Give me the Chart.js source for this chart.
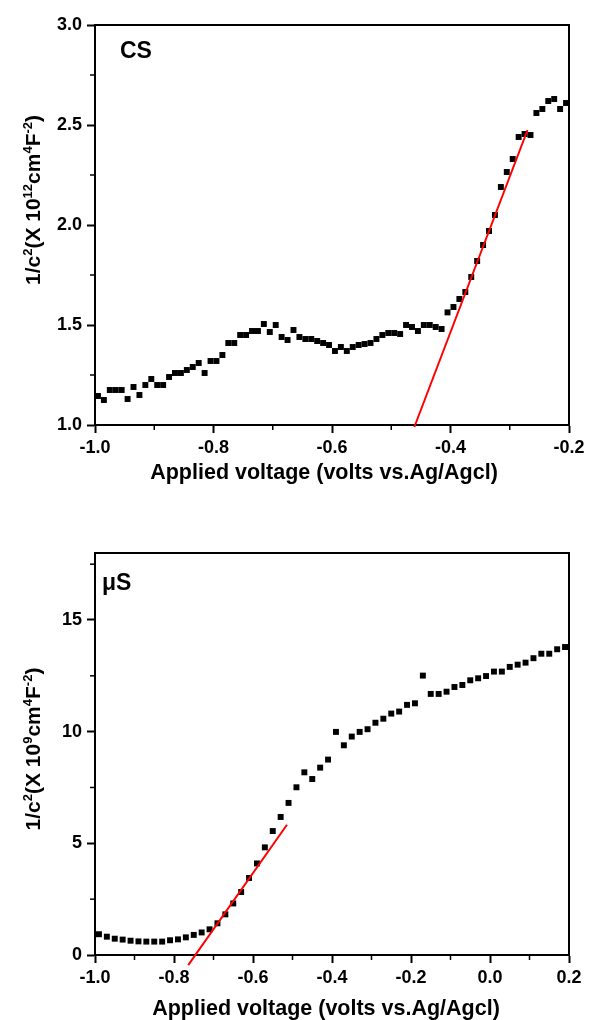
<!DOCTYPE html>
<html><head><meta charset="utf-8">
<script src="https://cdn.jsdelivr.net/npm/chart.js@4.4.0/dist/chart.umd.min.js"></script>
<style>
html,body{margin:0;padding:0;background:#fff;}
#wrap{position:relative;width:589px;height:1020px;}
.box{position:absolute;left:0;width:589px;height:510px;}
</style></head><body>
<div id="wrap">
<div class="box" style="top:0"><canvas id="c1"></canvas></div>
<div class="box" style="top:510px"><canvas id="c2"></canvas></div>
</div>
<script>
// ---- CS panel data ----
const csVoltage = [
-0.995,-0.985,-0.975,-0.965,-0.955,-0.945,-0.935,-0.925,-0.915,-0.905,
-0.895,-0.885,-0.875,-0.865,-0.855,-0.845,-0.835,-0.825,-0.815,-0.805,
-0.795,-0.785,-0.775,-0.765,-0.755,-0.745,-0.735,-0.725,-0.715,-0.705,
-0.695,-0.685,-0.675,-0.665,-0.655,-0.645,-0.635,-0.625,-0.615,-0.605,
-0.595,-0.585,-0.575,-0.565,-0.555,-0.545,-0.535,-0.525,-0.515,-0.505,
-0.495,-0.485,-0.475,-0.465,-0.455,-0.445,-0.435,-0.425,-0.415,-0.405,
-0.395,-0.385,-0.375,-0.365,-0.355,-0.345,-0.335,-0.325,-0.315,-0.305,
-0.295,-0.285,-0.275,-0.265,-0.255,-0.245,-0.235,-0.225,-0.215,-0.205];
const csInvC2 = [
1.145,1.125,1.175,1.175,1.175,1.13,1.19,1.15,1.20,1.23,
1.20,1.20,1.24,1.26,1.26,1.275,1.29,1.31,1.26,1.32,
1.32,1.35,1.41,1.41,1.45,1.45,1.47,1.47,1.505,1.465,
1.50,1.44,1.425,1.475,1.44,1.43,1.43,1.42,1.41,1.40,
1.37,1.39,1.37,1.39,1.40,1.405,1.41,1.43,1.45,1.46,
1.46,1.455,1.50,1.49,1.47,1.50,1.50,1.49,1.48,1.563,
1.59,1.63,1.665,1.74,1.82,1.90,1.97,2.05,2.19,2.265,
2.33,2.44,2.455,2.45,2.56,2.58,2.62,2.63,2.58,2.61];
const csFitVoltage = [-0.461, -0.270];
const csFitInvC2 = [0.99, 2.475];
const csXTicks = [-1.0,-0.8,-0.6,-0.4,-0.2];
const csXMinor = [-0.9,-0.7,-0.5,-0.3];
const csYTicks = [1.0,1.5,2.0,2.5,3.0];
const csYMinor = [1.25,1.75,2.25,2.75];

// ---- μS panel data ----
const usVoltage = [
-0.99,-0.97,-0.95,-0.93,-0.91,-0.89,-0.87,-0.85,-0.83,-0.81,
-0.79,-0.77,-0.75,-0.73,-0.71,-0.69,-0.67,-0.65,-0.63,-0.61,
-0.59,-0.57,-0.55,-0.53,-0.51,-0.49,-0.47,-0.45,-0.43,-0.41,
-0.39,-0.37,-0.35,-0.33,-0.31,-0.29,-0.27,-0.25,-0.23,-0.21,
-0.19,-0.17,-0.15,-0.13,-0.11,-0.09,-0.07,-0.05,-0.03,-0.01,
0.01,0.03,0.05,0.07,0.09,0.11,0.13,0.15,0.17,0.19];
const usInvC2 = [
0.93,0.82,0.73,0.69,0.64,0.61,0.60,0.60,0.60,0.66,
0.70,0.79,0.90,1.01,1.15,1.42,1.82,2.31,2.82,3.45,
4.10,4.82,5.55,6.18,6.81,7.51,8.18,7.88,8.39,8.75,
9.99,9.39,9.78,9.99,10.11,10.40,10.58,10.81,10.90,11.20,
11.27,12.51,11.69,11.69,11.79,12.00,12.09,12.30,12.39,12.49,
12.69,12.69,12.90,13.00,13.09,13.29,13.49,13.49,13.69,13.79];
const usFitVoltage = [-0.764, -0.514];
const usFitInvC2 = [-0.45, 5.83];
const usXTicks = [-1.0,-0.8,-0.6,-0.4,-0.2,0.0,0.2];
const usXMinor = [-0.9,-0.7,-0.5,-0.3,-0.1,0.1];
const usYTicks = [0,5,10,15];
const usYMinor = [2.5,7.5,12.5,17.5];

const FONT = "'Liberation Sans', Arial, sans-serif";
const xTitleText = 'Applied voltage (volts vs.Ag/Agcl)';

function drawRich(ctx, segs, bx, cy) {
  const mainF = 'bold 21px ' + FONT, supF = 'bold 13px ' + FONT;
  let total = 0;
  segs.forEach(s => { ctx.font = s[1] ? supF : mainF; total += ctx.measureText(s[0]).width; });
  ctx.save();
  ctx.translate(bx, cy);
  ctx.rotate(-Math.PI / 2);
  ctx.textAlign = 'left';
  ctx.textBaseline = 'alphabetic';
  let x = -total / 2;
  segs.forEach(s => {
    ctx.font = s[1] ? supF : mainF;
    ctx.fillText(s[0], x, s[1] ? -8 : 0);
    x += ctx.measureText(s[0]).width;
  });
  ctx.restore();
}

const framePlugin = {
  id: 'frame',
  afterDraw(chart, args, o) {
    const {ctx, chartArea: a} = chart;
    const x = chart.scales.x, y = chart.scales.y;
    ctx.save();
    ctx.strokeStyle = '#000';
    ctx.lineWidth = 2;
    ctx.beginPath();
    ctx.moveTo(a.left - 1, a.top);
    ctx.lineTo(a.right, a.top);
    ctx.lineTo(a.right, a.bottom + 1);
    ctx.stroke();
    ctx.lineWidth = 1.5;
    o.xMinor.forEach(v => { const p = x.getPixelForValue(v); ctx.beginPath(); ctx.moveTo(p, a.bottom); ctx.lineTo(p, a.bottom + 5); ctx.stroke(); });
    o.yMinor.forEach(v => { const p = y.getPixelForValue(v); ctx.beginPath(); ctx.moveTo(a.left, p); ctx.lineTo(a.left - 5, p); ctx.stroke(); });
    ctx.fillStyle = '#000';
    ctx.font = 'bold 23px ' + FONT;
    ctx.textAlign = 'left';
    ctx.textBaseline = 'alphabetic';
    ctx.fillText(o.panel, o.panelX, o.panelY);
    ctx.font = 'bold 21.5px ' + FONT;
    ctx.textAlign = 'center';
    ctx.fillText(xTitleText, o.xTitleX, o.xTitleY);
    drawRich(ctx, o.yTitle, o.yTitleX, o.yTitleY);
    ctx.restore();
  }
};

function makeChart(id, cfg) {
  const pts = cfg.xs.map((v, i) => ({x: v, y: cfg.ys[i]}));
  const fit = cfg.fx.map((v, i) => ({x: v, y: cfg.fy[i]}));
  const tickFont = {family: FONT, size: 18, weight: 'bold'};
  const grid = {display: true, drawOnChartArea: false, drawTicks: true, tickLength: 8, tickWidth: 2, tickColor: '#000', color: '#000'};
  const border = {display: true, width: 2, color: '#000'};
  return new Chart(document.getElementById(id), {
    type: 'scatter',
    data: {datasets: [
      {data: fit, showLine: true, borderColor: '#ff0000', borderWidth: 2, pointRadius: 0, clip: false, fill: false},
      {data: pts, pointStyle: 'rect', pointRadius: 4.2, backgroundColor: '#000', borderWidth: 0, showLine: false}
    ]},
    options: {
      responsive: true, maintainAspectRatio: false, animation: false, devicePixelRatio: 1,
      layout: {padding: {top: cfg.padTop, right: 20, left: 0, bottom: 0}},
      plugins: {legend: {display: false}, tooltip: {enabled: false}, frame: cfg.frame},
      scales: {
        x: {type: 'linear', min: cfg.xMin, max: cfg.xMax, grid: grid, border: border,
          ticks: {font: tickFont, color: '#000', padding: 4, maxRotation: 0, autoSkip: false,
            callback: v => Number(v).toFixed(1)},
          afterBuildTicks: s => { s.ticks = cfg.xTicks.map(v => ({value: v})); },
          afterFit: s => { s.height = cfg.xH; }},
        y: {type: 'linear', min: cfg.yMin, max: cfg.yMax, grid: grid, border: border,
          ticks: {font: tickFont, color: '#000', padding: 5, autoSkip: false,
            callback: cfg.yFmt},
          afterBuildTicks: s => { s.ticks = cfg.yTicks.map(v => ({value: v})); },
          afterFit: s => { s.width = 95; }}
      }
    },
    plugins: [framePlugin]
  });
}

makeChart('c1', {
  xs: csVoltage, ys: csInvC2, fx: csFitVoltage, fy: csFitInvC2,
  xMin: -1.0, xMax: -0.2, yMin: 1.0, yMax: 3.0,
  xTicks: csXTicks, yTicks: csYTicks, yFmt: v => Number(v).toFixed(1),
  padTop: 25, xH: 85,
  frame: {xMinor: csXMinor, yMinor: csYMinor, panel: 'CS', panelX: 120, panelY: 58,
    xTitleX: 324, xTitleY: 479, yTitleX: 40, yTitleY: 200,
    yTitle: [['1/c',0],['2',1],['(X 10',0],['12',1],['cm',0],['4',1],['F',0],['-2',1],[')',0]]}
});

makeChart('c2', {
  xs: usVoltage, ys: usInvC2, fx: usFitVoltage, fy: usFitInvC2,
  xMin: -1.0, xMax: 0.2, yMin: 0, yMax: 18,
  xTicks: usXTicks, yTicks: usYTicks, yFmt: v => String(v),
  padTop: 43, xH: 65,
  frame: {xMinor: usXMinor, yMinor: usYMinor, panel: 'μS', panelX: 102, panelY: 80,
    xTitleX: 326, xTitleY: 505, yTitleX: 40, yTitleY: 239,
    yTitle: [['1/c',0],['2',1],['(X 10',0],['9',1],['cm',0],['4',1],['F',0],['-2',1],[')',0]]}
});
</script>
</body></html>
